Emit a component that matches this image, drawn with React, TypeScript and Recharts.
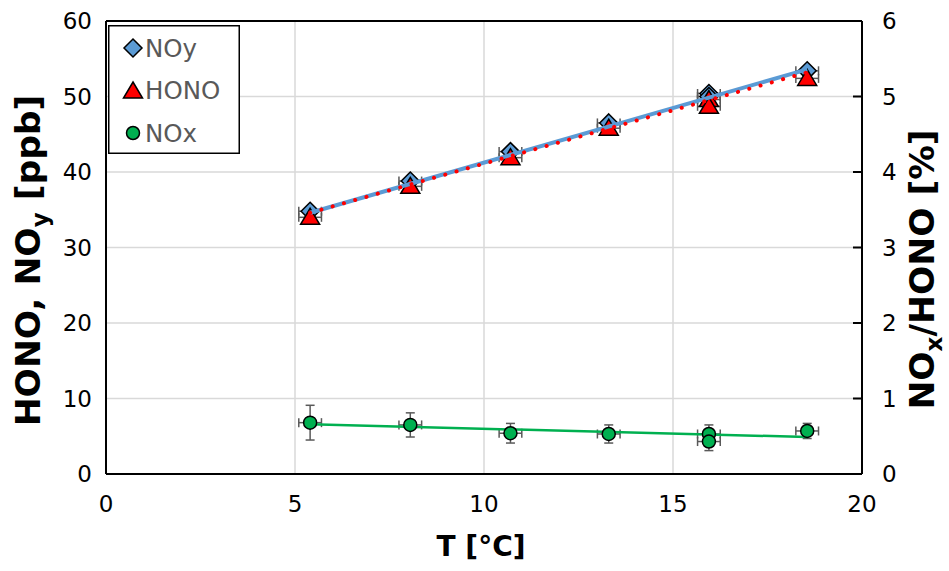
import React from 'react';
import { ComposedChart, Scatter, XAxis, YAxis, CartesianGrid, ErrorBar, Legend, ReferenceLine } from 'recharts';

const temperature = [5.4, 8.05, 10.7, 13.3, 15.95, 15.95, 18.55];
const temperatureErr = [0.3, 0.3, 0.3, 0.3, 0.3, 0.3, 0.3];
const noy = [34.8, 38.8, 42.7, 46.5, 50.4, 50.0, 53.4];
const noyErr = [0.4, 0.4, 0.4, 0.4, 0.4, 0.4, 0.4];
const hono = [34.0, 38.1, 41.9, 45.8, 49.6, 48.7, 52.4];
const noxRatio = [0.68, 0.65, 0.54, 0.53, 0.53, 0.43, 0.57];
const noxRatioErr = [0.23, 0.16, 0.13, 0.12, 0.12, 0.12, 0.1];
const fitT = [5.4, 18.55];
const noyFit = [34.6, 53.6];
const honoFit = [34.6, 53.2];
const noxFit = [0.659, 0.49];
const xTicks = [0, 5, 10, 15, 20];
const leftTicks = [0, 10, 20, 30, 40, 50, 60];
const rightTicks = [0, 1, 2, 3, 4, 5, 6];

const FONT = '"DejaVu Sans", "Liberation Sans", sans-serif';
const BLUE = '#5b9bd5';
const RED = '#ff0000';
const GREEN = '#00b050';
const ERR = '#595959';
const RIGHT_MARGIN = 20;

const noyData = temperature.map((t, i) => ({ x: t, y: noy[i], ex: temperatureErr[i], ey: noyErr[i] }));
const honoData = temperature.map((t, i) => ({ x: t, y: hono[i], ex: temperatureErr[i] }));
const noxData = temperature.map((t, i) => ({ x: t, y: noxRatio[i], ex: temperatureErr[i], ey: noxRatioErr[i] }));
const noyFitData = fitT.map((t, i) => ({ x: t, y: noyFit[i] }));
const honoFitData = fitT.map((t, i) => ({ x: t, y: honoFit[i] }));
const noxFitData = fitT.map((t, i) => ({ x: t, y: noxFit[i] }));

const Diamond = ({ cx, cy }: any) => (
  <path d={`M${cx},${cy - 9}L${cx + 9},${cy}L${cx},${cy + 9}L${cx - 9},${cy}Z`} fill={BLUE} stroke="#000" strokeWidth={1.5} />
);
const Triangle = ({ cx, cy }: any) => (
  <path d={`M${cx},${cy - 9}L${cx + 9.5},${cy + 7}L${cx - 9.5},${cy + 7}Z`} fill={RED} stroke="#000" strokeWidth={1.5} />
);
const Dot = ({ cx, cy }: any) => <circle cx={cx} cy={cy} r={6.5} fill={GREEN} stroke="#000" strokeWidth={1.5} />;
const Nothing = () => <g />;

const RightTick = (props: any) => {
  const { x, y, payload } = props;
  return (
    <g>
      <line x1={x - RIGHT_MARGIN - 9} x2={x - RIGHT_MARGIN} y1={y} y2={y} stroke="#000" strokeWidth={2} />
      <text x={x} y={y} dy="0.36em" textAnchor="start" fontFamily={FONT} fontSize={23} fill="#000">
        {payload.value}
      </text>
    </g>
  );
};

const LegendBox = () => (
  <svg width={132} height={129} style={{ display: 'block' }}>
    <rect x={0.75} y={0.75} width={130.5} height={127.5} fill="#fff" stroke="#000" strokeWidth={1.5} />
    <Diamond cx={25} cy={23} />
    <text x={37} y={23} dy="0.36em" fontFamily={FONT} fontSize={24.5} fill="#595959">NOy</text>
    <Triangle cx={25} cy={66} />
    <text x={37} y={65} dy="0.36em" fontFamily={FONT} fontSize={24.5} fill="#595959">HONO</text>
    <Dot cx={25} cy={108} />
    <text x={37} y={108} dy="0.36em" fontFamily={FONT} fontSize={24.5} fill="#595959">NOx</text>
  </svg>
);

const XTitle = ({ viewBox }: any) => (
  <text x={viewBox.x + viewBox.width / 2 - 3} y={viewBox.y + 82} textAnchor="middle" fontFamily={FONT} fontWeight="bold" fontSize={28} fill="#000">
    T [°C]
  </text>
);

const LeftTitle = ({ viewBox }: any) => (
  <text transform={`translate(${viewBox.x + 28},${viewBox.y + viewBox.height / 2 + 13}) rotate(-90)`} textAnchor="middle" dy="0.36em" fontFamily={FONT} fontWeight="bold" fontSize={34.5} fill="#000">
    <tspan>HONO, NO</tspan>
    <tspan fontSize={23} dy={8}>y</tspan>
    <tspan dy={-8}> [ppb]</tspan>
  </text>
);

const RightTitle = ({ viewBox }: any) => (
  <text transform={`translate(${viewBox.x + 60},${viewBox.y + viewBox.height / 2 + 22}) rotate(-90)`} textAnchor="middle" dy="0.36em" fontFamily={FONT} fontWeight="bold" fontSize={34.5} fill="#000">
    <tspan>NO</tspan>
    <tspan fontSize={23} dy={8}>x</tspan>
    <tspan dy={-8}>/HONO [%]</tspan>
  </text>
);

export default function App() {
  return (
    <div style={{ position: 'absolute', left: 0, top: 0, width: 949, height: 571, background: '#fff' }}>
      <ComposedChart width={949} height={571} margin={{ top: 21, right: 0, bottom: 0, left: 0 }}>
        <CartesianGrid stroke="#d9d9d9" strokeWidth={1.5} yAxisId="left" />
        <XAxis
          type="number"
          dataKey="x"
          domain={[0, 20]}
          ticks={xTicks}
          height={97}
          tickSize={0}
          tickMargin={22}
          tickLine={false}
          axisLine={{ stroke: '#000', strokeWidth: 2 }}
          tick={{ fontFamily: FONT, fontSize: 23, fill: '#000' }}
          label={<XTitle />}
          allowDataOverflow
        />
        <YAxis
          yAxisId="left"
          type="number"
          dataKey="y"
          domain={[0, 60]}
          ticks={leftTicks}
          width={106}
          tickSize={0}
          tickMargin={14}
          tickLine={false}
          axisLine={{ stroke: '#000', strokeWidth: 2 }}
          tick={{ fontFamily: FONT, fontSize: 23, fill: '#000' }}
          label={<LeftTitle />}
          allowDataOverflow
        />
        <YAxis
          yAxisId="right"
          orientation="right"
          type="number"
          dataKey="y"
          domain={[0, 6]}
          ticks={rightTicks}
          width={87}
          tickSize={0}
          tickMargin={RIGHT_MARGIN}
          tickLine={false}
          axisLine={{ stroke: '#000', strokeWidth: 2 }}
          tick={<RightTick />}
          label={<RightTitle />}
          allowDataOverflow
        />
        <ReferenceLine yAxisId="left" y={60} stroke="#000" strokeWidth={2} />
        <Scatter yAxisId="left" data={noyData} shape={<Diamond />} isAnimationActive={false} legendType="none">
          <ErrorBar dataKey="ex" direction="x" width={4.5} stroke={ERR} strokeWidth={1.5} />
          <ErrorBar dataKey="ey" direction="y" width={4.5} stroke={ERR} strokeWidth={1.5} />
        </Scatter>
        <Scatter yAxisId="left" data={honoData} shape={<Triangle />} isAnimationActive={false} legendType="none">
          <ErrorBar dataKey="ex" direction="x" width={4.5} stroke={ERR} strokeWidth={1.5} />
        </Scatter>
        <Scatter yAxisId="right" data={noxFitData} shape={<Nothing />} line={{ stroke: GREEN, strokeWidth: 2.5 }} isAnimationActive={false} legendType="none" />
        <Scatter yAxisId="right" data={noxData} shape={<Dot />} isAnimationActive={false} legendType="none">
          <ErrorBar dataKey="ex" direction="x" width={4.5} stroke={ERR} strokeWidth={1.5} />
          <ErrorBar dataKey="ey" direction="y" width={4.5} stroke={ERR} strokeWidth={1.5} />
        </Scatter>
        <Scatter yAxisId="left" data={noyFitData} shape={<Nothing />} line={{ stroke: BLUE, strokeWidth: 4 }} isAnimationActive={false} legendType="none" />
        <Scatter yAxisId="left" data={honoFitData} shape={<Nothing />} line={{ stroke: RED, strokeWidth: 4, strokeDasharray: '0.1 11.6', strokeLinecap: 'round' }} isAnimationActive={false} legendType="none" />
        <Legend
          layout="vertical"
          align="center"
          verticalAlign="middle"
          wrapperStyle={{ left: 108, top: 25, width: 132, height: 129 }}
          content={() => <LegendBox />}
        />
      </ComposedChart>
    </div>
  );
}
